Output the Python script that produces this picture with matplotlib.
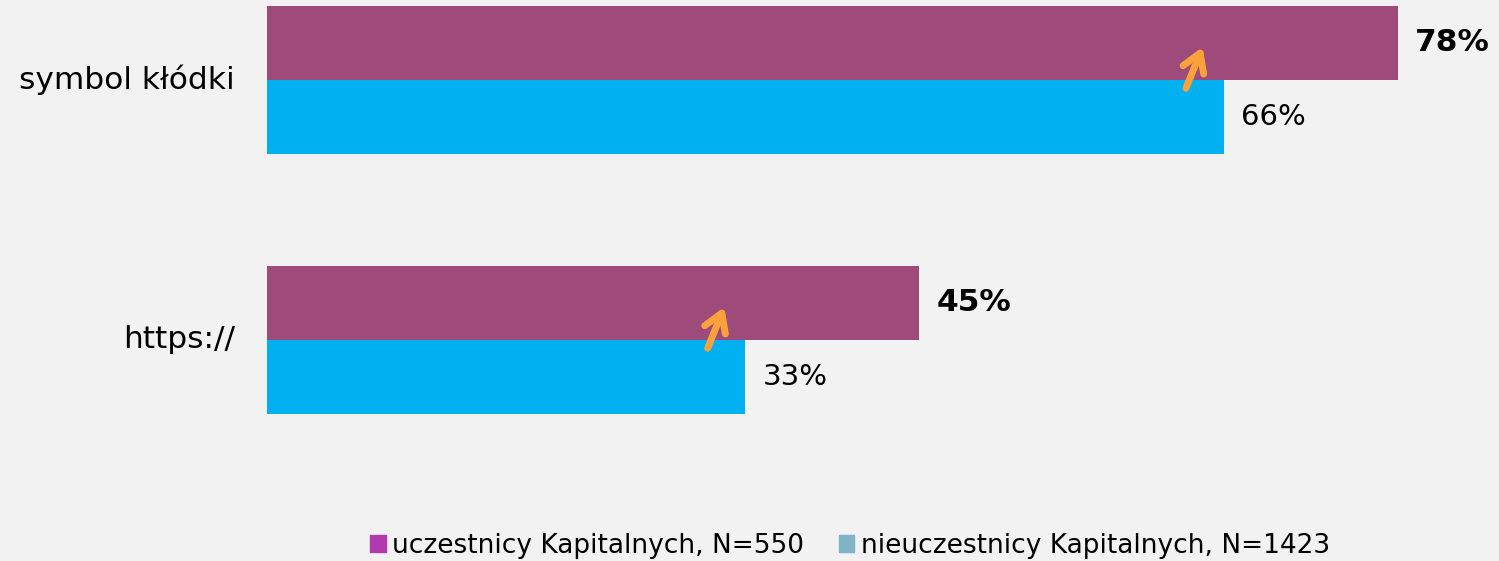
import matplotlib
matplotlib.use("Agg")
import matplotlib.pyplot as plt
from matplotlib.patches import Patch

# === DATA ===
categories = ["https://", "symbol kłódki"]
participants = [45, 78]       # uczestnicy Kapitalnych, N=550
non_participants = [33, 66]   # nieuczestnicy Kapitalnych, N=1423
legend_labels = ["uczestnicy Kapitalnych, N=550", "nieuczestnicy Kapitalnych, N=1423"]

# === STYLE ===
BG = "#F2F2F2"
PURPLE = "#9E4A7A"
CYAN = "#00B0F0"
ORANGE = "#F9A23B"
LEGEND_PURPLE = "#B03AAE"
LEGEND_BLUE = "#7FB3C5"

fig = plt.figure(figsize=(14.99, 5.61), dpi=100, facecolor=BG)
ax = fig.add_axes([267 / 1499, 1 - 480 / 561, 1 - 267 / 1499, 480 / 561])
ax.set_facecolor(BG)

bar_h = 0.285
y = list(range(len(categories)))

ax.barh([v + bar_h / 2 for v in y], participants, height=bar_h, color=PURPLE)
ax.barh([v - bar_h / 2 for v in y], non_participants, height=bar_h, color=CYAN)

# value labels: bold for participants, regular for non-participants
for yi, p, n in zip(y, participants, non_participants):
    ax.text(p + 1.2, yi + bar_h / 2, f"{p}%", va="center", ha="left",
            fontsize=22.5, fontweight="bold", color="black")
    ax.text(n + 1.2, yi - bar_h / 2, f"{n}%", va="center", ha="left",
            fontsize=21, color="black")
    # upward arrow marking the difference between groups
    ax.annotate("", xy=(n - 1.45, yi + 0.127), xytext=(n - 2.6, yi - 0.032),
                arrowprops=dict(arrowstyle="->,head_length=1.3,head_width=0.8",
                                color=ORANGE, lw=5, capstyle="round",
                                mutation_scale=10, shrinkA=0, shrinkB=0))

# category labels to the left of the bars
for yi, cat in zip(y, categories):
    ax.text(-2.2, yi, cat, va="center", ha="right", fontsize=22.5, color="black")

ax.set_xlim(0, 85)
ax.set_ylim(-0.5385, 1.3077)
ax.axis("off")

handles = [Patch(color=LEGEND_PURPLE), Patch(color=LEGEND_BLUE)]
fig.legend(handles, legend_labels, loc="center", bbox_to_anchor=(850 / 1499, 1 - 546 / 561),
           ncol=2, frameon=False, fontsize=19, handlelength=0.6, handleheight=0.6,
           handletextpad=0.25, columnspacing=1.3)

fig.savefig("out.png", dpi=100, facecolor=BG)
